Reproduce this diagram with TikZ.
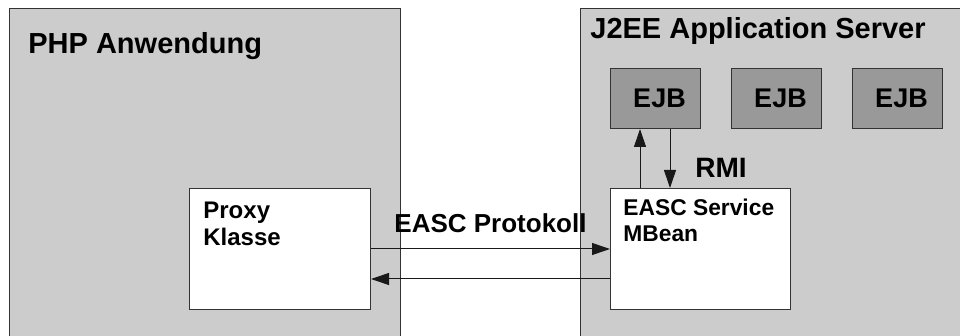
\documentclass[tikz,border=0pt]{standalone}
\usepackage{fontspec}
\setmainfont{Liberation Sans}
\usetikzlibrary{arrows.meta, positioning}

\begin{document}
\begin{tikzpicture}[x=0.5pt, y=-0.5pt,
        container/.style={draw=black!80, fill=black!20, line width=0.5pt, anchor=north west, inner sep=0pt},
        component/.style={draw=black!80, fill=white, line width=0.5pt, anchor=north west, inner sep=0pt, minimum width=90.5pt, minimum height=60.5pt},
        bean/.style={draw=black!80, fill=black!40, line width=0.5pt, anchor=north west, inner sep=0pt, minimum width=45pt, minimum height=30pt, font=\fontsize{13.5}{16}\selectfont\bfseries},
        title/.style={anchor=base west, inner sep=0pt, font=\fontsize{14.5}{17}\selectfont\bfseries},
        boxtext/.style={anchor=base west, inner sep=0pt, align=left, font=\fontsize{12}{13.5}\selectfont\bfseries},
        msgtext/.style={inner sep=0pt, font=\fontsize{13}{15}\selectfont\bfseries},
        flow/.style={-{Triangle[length=9pt, width=6pt]}, line width=0.5pt, draw=black!90}]
    \clip (0,0) rectangle (960,336);
    \node[container, minimum width=195.5pt, minimum height=200pt] (php) at (9,8) {};
    \node[container, minimum width=200pt, minimum height=200pt] (j2ee) at (580,8) {};
    \node[title] (phptitle) at (28,54) {PHP Anwendung};
    \node[title] (j2eetitle) at (590,39) {J2EE Application Server};
    \node[component] (proxy) at (189,188) {};
    \node[component, minimum width=90pt] (mbean) at (610,188) {};
    \node[boxtext] (proxytext) at (203,246) {Proxy\\Klasse};
    \node[boxtext, font=\fontsize{11.4}{13}\selectfont\bfseries] (mbeantext) at (623,242) {EASC Service\\MBean};
    \node[bean] (ejba) at (610,68) {\hspace{4pt}EJB};
    \node[bean, right=15pt of ejba] (ejbb) {\hspace{4pt}EJB};
    \node[bean, right=15pt of ejbb] (ejbc) {\hspace{4pt}EJB};
    \draw[flow] (proxy.east) -- node[msgtext, above=8pt] (protokoll) {EASC Protokoll} (proxy.east -| mbean.west);
    \draw[flow] ([yshift=-15pt]mbean.west) -- ([yshift=-15pt]mbean.west -| proxy.east);
    \draw[flow] ([xshift=15pt]mbean.north west) -- ([xshift=15pt]mbean.north west |- ejba.south);
    \draw[flow] ([xshift=30pt]ejba.south west) -- ([xshift=30pt]ejba.south west |- mbean.north);
    \node[msgtext, anchor=base west, font=\fontsize{14}{16}\selectfont\bfseries] (rmi) at (695,178) {RMI};
\end{tikzpicture}
\end{document}
